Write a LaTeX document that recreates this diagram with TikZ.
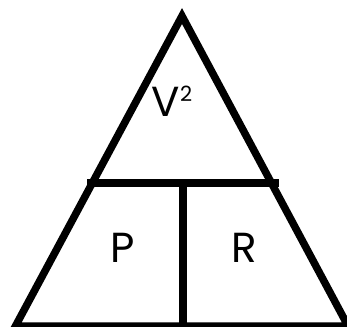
\documentclass[tikz,border=0pt]{standalone}
\usepackage{fontspec}
\setmainfont{Poppins}
\usepackage{tikz}
\usetikzlibrary{positioning}
\tikzset{
    side/.style={line width=7.5pt, line join=miter, draw=black},
    bar/.style={line width=7.5pt, line cap=butt, draw=black},
    term/.style={inner sep=0pt, font=\fontsize{42}{42}\selectfont}
}
\newcommand{\sqsup}{\raisebox{15pt}{\fontsize{21}{21}\selectfont 2}}

\begin{document}
\begin{tikzpicture}[x=1pt, y=1pt]

    \clip (0,0) rectangle (347,326);

    % outer triangle
    \coordinate (apex) at (182,310);
    \coordinate (bl) at (15.5,0);
    \coordinate (br) at (348,0);
    \draw[side] (bl) -- (apex) -- (br) -- cycle;

    % dividers
    \coordinate (hl) at (87,143);
    \coordinate (hr) at (279,143);
    \coordinate (vt) at (183,143);
    \coordinate (vb) at (183,-4);
    \draw[bar] (hl) -- (hr);
    \draw[bar] (vt) -- (vb);

    \node[term] (vsq) at (172,225) {V\sqsup};
    \node[term] (pow) at (122.5,78) {P};
    \node[term] (res) at (244,78.5) {R};

\end{tikzpicture}
\end{document}
